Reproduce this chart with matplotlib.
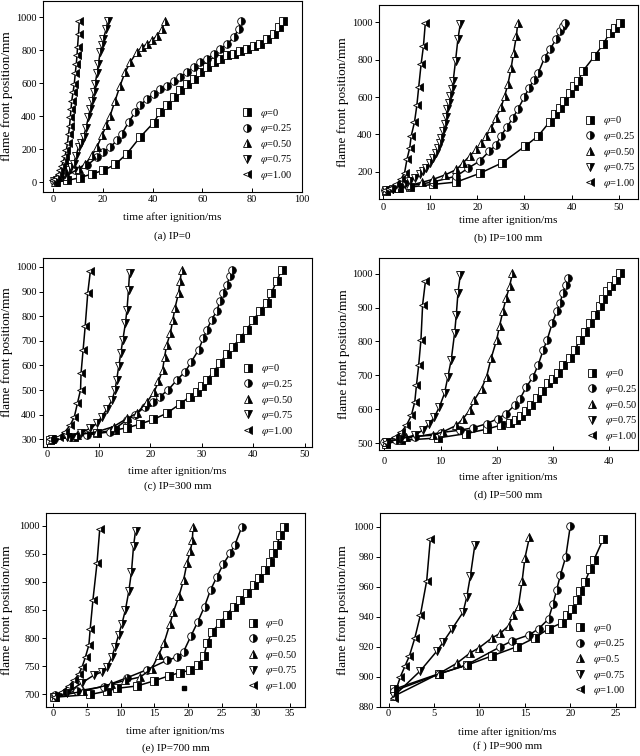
import numpy as np
import matplotlib
matplotlib.use("Agg")
from matplotlib import pyplot as plt
from matplotlib.lines import Line2D

plt.rcParams["font.family"] = ["Liberation Serif", "DejaVu Serif"]
plt.rcParams["mathtext.fontset"] = "stix"
plt.rcParams["font.size"] = 7.5

# legend labels / markers for the five equivalence ratios
phi_labels = ["0", "0.25", "0.50", "0.75", "1.00"]
phi_labels_f = ["0", "0.25", "0.5", "0.75", "1.00"]
markers = ["s", "o", "^", "v", "<"]

# (a) IP=0
a_t = [
    [1.3, 5.6, 10.7, 15.7, 20.3, 25, 29.7, 35, 40.4, 43, 45.8, 48.5, 51, 53.8, 56.5, 59.2, 62, 64.5,
     67.2, 70, 72.6, 75.2, 78, 80.6, 83.3, 86, 88.6, 90.6, 92.4],
    [0.5, 5, 9, 13.7, 17.7, 20.3, 23, 25.7, 27.7, 30.4, 33, 35, 37.8, 40.4, 43, 45.8, 48.5, 51, 53.8,
     56.5, 59.2, 62, 64.5, 67.2, 70, 72.6, 74.6, 75.5],
    [1, 5.6, 10.3, 13, 15.7, 17.7, 19.7, 21.5, 23, 25, 27, 29, 31, 33.7, 35.7, 37.8, 39.8, 41.8, 43.8, 45],
    [0.5, 1.5, 2.5, 3.6, 5, 6.3, 7.3, 8.3, 9.3, 10.3, 11.3, 12.3, 13.3, 14.3, 15, 15.7, 16.4, 17, 17.7,
     18.3, 19, 19.7, 20.3, 21.4, 22],
    [0, 0.8, 1.6, 2.3, 2.9, 3.6, 4.3, 4.9, 5.4, 5.9, 6.3, 6.7, 7, 7.3, 7.6, 8.1, 8.6, 9, 9.4, 9.7, 9.9,
     10.3, 10.6],
]
a_y = [
    [0, 10, 26, 50, 71, 107, 172, 273, 360, 424, 465, 515, 556, 596, 626, 667, 697, 727, 747, 768, 778,
     798, 808, 828, 838, 869, 899, 939, 980],
    [5, 40, 71, 101, 152, 182, 212, 253, 293, 364, 424, 465, 505, 535, 566, 586, 616, 636, 667, 697, 727,
     747, 778, 808, 838, 879, 929, 980],
    [0, 40, 81, 111, 162, 212, 283, 345, 404, 495, 586, 667, 727, 788, 818, 838, 859, 889, 929, 980],
    [5, 12, 20, 30, 50, 71, 90, 111, 160, 212, 240, 273, 330, 394, 445, 495, 545, 596, 660, 717, 790,
     830, 869, 929, 976],
    [10, 20, 30, 50, 71, 100, 131, 160, 192, 240, 293, 340, 394, 445, 495, 545, 596, 660, 717, 768, 818,
     900, 976],
]

# (b) IP=100 mm
b_t = [
    [0.7, 3.5, 5.8, 10.6, 15.6, 20.5, 25.3, 30.2, 32.9, 35.4, 36.4, 37.5, 38.5, 39.6, 40.5, 41.4, 42.4,
     44.9, 46.7, 48.1, 49.2, 50.2],
    [0.4, 5.3, 10.6, 15.6, 18, 20.5, 22.6, 24, 25, 26.3, 27.6, 28.6, 30, 31, 32, 32.9, 34.3, 35.4, 36.8,
     37.5, 38.2, 38.6],
    [0.7, 3.2, 5.7, 8.2, 10.6, 13.1, 15.6, 17, 18.4, 19.8, 20.9, 21.9, 23, 24, 25.1, 25.8, 26.5, 27.2,
     27.7, 28.3, 28.6],
    [0.7, 2.1, 3.5, 4.6, 5.7, 6.8, 7.8, 8.5, 9.2, 9.9, 10.6, 11.2, 11.7, 12.1, 12.4, 12.8, 13.1, 13.4,
     13.6, 14, 14.3, 14.6, 14.9, 15.4, 15.9, 16.4],
    [0.4, 1.2, 1.8, 2.8, 3.9, 4.6, 5.1, 5.7, 6, 6.7, 7.2, 7.6, 8.1, 8.6, 9],
]
b_y = [
    [96, 114, 118, 132, 145, 191, 248, 338, 391, 468, 507, 543, 579, 623, 659, 686, 739, 820, 882, 945,
     970, 998],
    [102, 123, 145, 177, 218, 257, 311, 343, 391, 440, 489, 534, 600, 650, 690, 727, 811, 855, 912, 954,
     980, 998],
    [102, 114, 127, 143, 159, 182, 212, 248, 284, 320, 355, 391, 436, 489, 548, 605, 668, 757, 837, 927,
     998],
    [102, 110, 120, 135, 150, 168, 186, 204, 221, 248, 275, 302, 329, 356, 382, 418, 454, 494, 534, 570,
     605, 645, 686, 793, 909, 989],
    [102, 108, 114, 132, 162, 195, 266, 329, 391, 466, 555, 655, 775, 873, 998],
]

# (c) IP=300 mm
c_t = [
    [0.6, 5.2, 9.7, 13.2, 15.5, 18, 20.6, 23.2, 25.8, 27.7, 29, 30, 31, 32.3, 33.5, 34.8, 36.1, 37.4,
     38.7, 40, 41.3, 42.6, 43.5, 44.5, 45.5],
    [1.3, 4.5, 7.7, 12.3, 15.5, 17.1, 19, 20.6, 21.9, 23.5, 25.2, 26.8, 28, 29.4, 30.3, 31, 31.9, 32.9,
     33.5, 34.2, 34.8, 35.5, 35.8],
    [1, 5.8, 9.7, 12.9, 15.5, 17.4, 19.4, 20.8, 21.6, 22.4, 22.8, 23.2, 23.9, 24.4, 24.8, 25.5, 25.8, 26.1],
    [1, 3.9, 6.5, 8.4, 9.7, 10.6, 11.6, 12.6, 13.2, 13.5, 13.9, 14.3, 14.7, 15.2, 15.5, 15.8, 16],
    [0.6, 2.3, 3.5, 4.5, 5.3, 5.9, 6.5, 6.6, 7, 7.4, 7.9, 8.4],
]
c_y = [
    [297, 311, 327, 338, 347, 362, 381, 406, 444, 474, 494, 518, 542, 575, 609, 647, 677, 711, 745, 786,
     820, 854, 894, 942, 989],
    [300, 308, 318, 331, 379, 399, 433, 453, 474, 501, 542, 575, 616, 664, 711, 745, 786, 820, 860, 894,
     928, 962, 989],
    [300, 318, 331, 352, 385, 406, 453, 494, 535, 582, 636, 684, 731, 786, 833, 894, 942, 989],
    [300, 311, 327, 345, 365, 392, 422, 460, 501, 542, 596, 650, 704, 772, 826, 908, 976],
    [300, 311, 331, 358, 392, 447, 501, 569, 664, 759, 894, 982],
]

# (d) IP=500 mm
d_t = [
    [0.3, 3, 9.5, 14.6, 18.2, 20.8, 22.3, 23.5, 24.4, 25.3, 26.2, 27.1, 28, 29.2, 30, 30.9, 31.8, 33,
     33.9, 34.8, 35.7, 36.6, 37.5, 38.4, 39, 39.6, 40.4, 41.2, 42],
    [0, 2, 5.4, 10.1, 13.4, 15.8, 18.2, 20.2, 21.7, 23.2, 24.1, 25.3, 26.5, 27.4, 28.3, 29, 29.9, 30.7,
     31.3, 31.8, 32.3, 32.7],
    [0.3, 3.9, 8.6, 10.4, 12.8, 14, 15.2, 16, 17.3, 18.2, 19, 20, 20.5, 21.1, 21.7, 22.3, 22.8],
    [0.3, 2.8, 5.4, 6.8, 8, 8.9, 9.8, 10.7, 11.3, 11.9, 12.5, 12.8, 13.1, 13.5],
    [0.3, 1.8, 3, 3.9, 4.8, 5.4, 5.7, 6.1, 6.5, 6.8, 7.3],
]
d_y = [
    [498, 508, 515, 528, 541, 553, 559, 569, 580, 595, 612, 632, 654, 676, 688, 706, 731, 750, 775, 803,
     827, 854, 879, 904, 926, 948, 963, 980, 1001],
    [503, 508, 518, 531, 538, 545, 557, 572, 587, 612, 629, 666, 696, 731, 775, 805, 854, 889, 914, 944,
     968, 988],
    [503, 518, 523, 533, 552, 572, 597, 627, 661, 696, 750, 805, 845, 889, 929, 963, 1001],
    [503, 512, 523, 538, 557, 577, 607, 647, 696, 746, 825, 879, 944, 995],
    [503, 518, 533, 552, 582, 622, 671, 731, 805, 909, 978],
]

# (e) IP=700 mm
e_t = [
    [0.1, 5.5, 8, 9.5, 12.4, 14.9, 17.1, 18.8, 20.3, 21.5, 22.3, 22.8, 23.5, 24.7, 25.7, 26.7, 27.7,
     28.7, 29.7, 30.4, 31.4, 32.1, 32.6, 33.1, 33.6, 34.1],
    [0.3, 3.5, 7.5, 11, 13.9, 16.9, 18.3, 19.3, 20.4, 21.4, 22.4, 23.3, 24.2, 25.2, 26.2, 26.9, 27.9],
    [0.3, 4.5, 8.5, 10.7, 12.9, 14.6, 15.6, 16.4, 17.3, 17.8, 18.6, 19.3, 19.8, 20.3, 20.6, 20.7],
    [0.3, 2.1, 4.3, 6, 7.2, 8, 8.7, 9.2, 9.7, 10.2, 10.7, 11.2, 11.6, 11.9, 12.2],
    [0.3, 1.3, 2.3, 3.1, 3.8, 4.3, 4.8, 5.3, 5.5, 5.9, 6.5, 6.9],
]
e_y = [
    [695, 700, 706, 711, 715, 724, 733, 739, 743, 752, 768, 791, 811, 827, 842, 856, 868, 880, 894, 906,
     921, 936, 951, 966, 983, 998],
    [699, 706, 714, 730, 744, 761, 766, 776, 804, 829, 856, 886, 908, 932, 951, 966, 997],
    [696, 706, 718, 725, 731, 746, 770, 791, 826, 847, 874, 903, 933, 954, 974, 997],
    [696, 703, 721, 734, 740, 749, 767, 785, 806, 826, 850, 883, 918, 963, 991],
    [696, 705, 715, 725, 736, 749, 767, 788, 817, 868, 933, 993],
]
e_stray_t = [19.3]
e_stray_y = [712]

# (f) IP=900 mm
f_t = [
    [0.55, 5.5, 8.6, 11.4, 14.1, 16.1, 17.6, 19.1, 19.6, 20.2, 20.7, 21.1, 21.6, 22.2, 22.6, 23.6],
    [0.55, 5.5, 8.6, 12.3, 13.6, 15.5, 16.5, 17.6, 18.1, 18.5, 18.9, 19.5, 20],
    [0.55, 5.5, 7.5, 9, 10, 11.4, 12.3, 13.2, 13.7, 14.3, 14.7, 15, 15.5],
    [0.55, 3.5, 5.3, 6, 7, 8.2, 8.6, 9, 9.5],
    [0.55, 1.3, 1.8, 2.3, 2.9, 3.5, 4.2, 4.6],
]
f_y = [
    [891.6, 902, 907.7, 914, 920, 926, 932, 936, 941, 945, 951, 957, 963, 972, 978, 991.5],
    [890.5, 901.7, 908, 920, 924, 928, 932, 938.5, 948.6, 958, 967.6, 980, 1000.7],
    [887, 902, 909, 916, 919.5, 926, 929, 934, 941, 947.5, 964, 979, 993],
    [887, 904, 917, 923, 932, 943, 953, 967, 988],
    [886, 900, 907, 914, 926, 941, 964, 992],
]

panels = [
    # t, y, axes rect, xlim, xticks, ylim, yticks, caption, legend anchor, caption y, labels,
    # tick pad, xlabel offset (axes frac), ylabel offset (px)
    (a_t, a_y, [0.067, 0.746, 0.405, 0.253], (-4, 100), np.arange(0, 101, 20), (-60, 1100),
     np.arange(0, 1001, 200), "(a) IP=0", (0.961, 0.052), 1 - 236 / 756, phi_labels, 1.8, 0.131, 36),
    (b_t, b_y, [0.592, 0.737, 0.405, 0.257], (-0.85, 54.1), np.arange(0, 51, 10), (55, 1095),
     np.arange(200, 1001, 200), "(b) IP=100 mm", (0.988, 0.046), 1 - 238 / 756, phi_labels, 3.2, 0.108, 36),
    (c_t, c_y, [0.067, 0.409, 0.420, 0.250], (-0.8, 51.3), np.arange(0, 51, 10), (270, 1037),
     np.arange(300, 1001, 100), "(c) IP=300 mm", (0.929, 0.048), 1 - 486 / 756, phi_labels, 2.5, 0.127, 36),
    (d_t, d_y, [0.592, 0.405, 0.405, 0.254], (-1, 45.2), np.arange(0, 41, 10), (480, 1047),
     np.arange(500, 1001, 100), "(d) IP=500 mm", (0.996, 0.036), 1 - 495 / 756, phi_labels, 5.0, 0.141, 35),
    (e_t, e_y, [0.072, 0.065, 0.405, 0.257], (-1.03, 37.3), np.arange(0, 36, 5), (678, 1023),
     np.arange(700, 1001, 50), "(e) IP=700 mm", (0.969, 0.072), 1 - 748 / 756, phi_labels, 1.8, 0.124, 39),
    (f_t, f_y, [0.594, 0.065, 0.398, 0.257], (-0.92, 27.1), np.arange(0, 26, 5), (880, 1009.4),
     np.arange(880, 1001, 20), "(f ) IP=900 mm", (0.96, 0.05), 1 - 746 / 756, phi_labels_f, 1.8, 0.129, 37),
]

fig = plt.figure(figsize=(6.4, 7.56), dpi=100)

style = dict(color="black", fillstyle="right", markerfacecolor="black",
             markerfacecoloralt="white", markeredgecolor="black", markersize=5.5,
             markeredgewidth=0.6)

for i, (ts, ys, rect, xl, xt, yl, yt, cap, anchor, cap_y, labels, tpad, xoff, yoff) in enumerate(panels):
    ax = fig.add_axes(rect)
    for t, y, m in zip(ts, ys, markers):
        ax.plot(t, y, marker=m, lw=1.1, **style)
    if i == 4:
        ax.plot(e_stray_t, e_stray_y, ls="none", marker="s", markersize=2.5, color="black")
    ax.set_xlim(*xl)
    ax.set_ylim(*yl)
    ax.set_xticks(xt)
    ax.set_yticks(yt)
    ax.tick_params(length=3, width=0.7, labelsize=7.5)
    ax.tick_params(axis="x", direction="in", pad=tpad)
    ax.tick_params(axis="y", direction="out", pad=1.5)
    for s in ax.spines.values():
        s.set_linewidth(0.8)
    ax.set_xlabel("time after ignition/ms", fontsize=8.2, va="center")
    ax.set_ylabel("flame front position/mm", fontsize=9.5, va="center")
    ax.xaxis.set_label_coords(0.5, -xoff)
    ax.yaxis.set_label_coords(-yoff / (rect[2] * 640), 0.5)

    handles = [Line2D([], [], ls="none", marker=m, **style) for m in markers]
    ax.legend(handles, [r"$\varphi$=" + l for l in labels], loc="lower right",
              bbox_to_anchor=anchor, frameon=False, borderpad=0, borderaxespad=0,
              handlelength=1.0, handletextpad=0.7, labelspacing=0.25, fontsize=7.5)

    fig.text(rect[0] + rect[2] / 2, cap_y, cap, ha="center", va="center", fontsize=8)

fig.savefig("out.png", dpi=100)
